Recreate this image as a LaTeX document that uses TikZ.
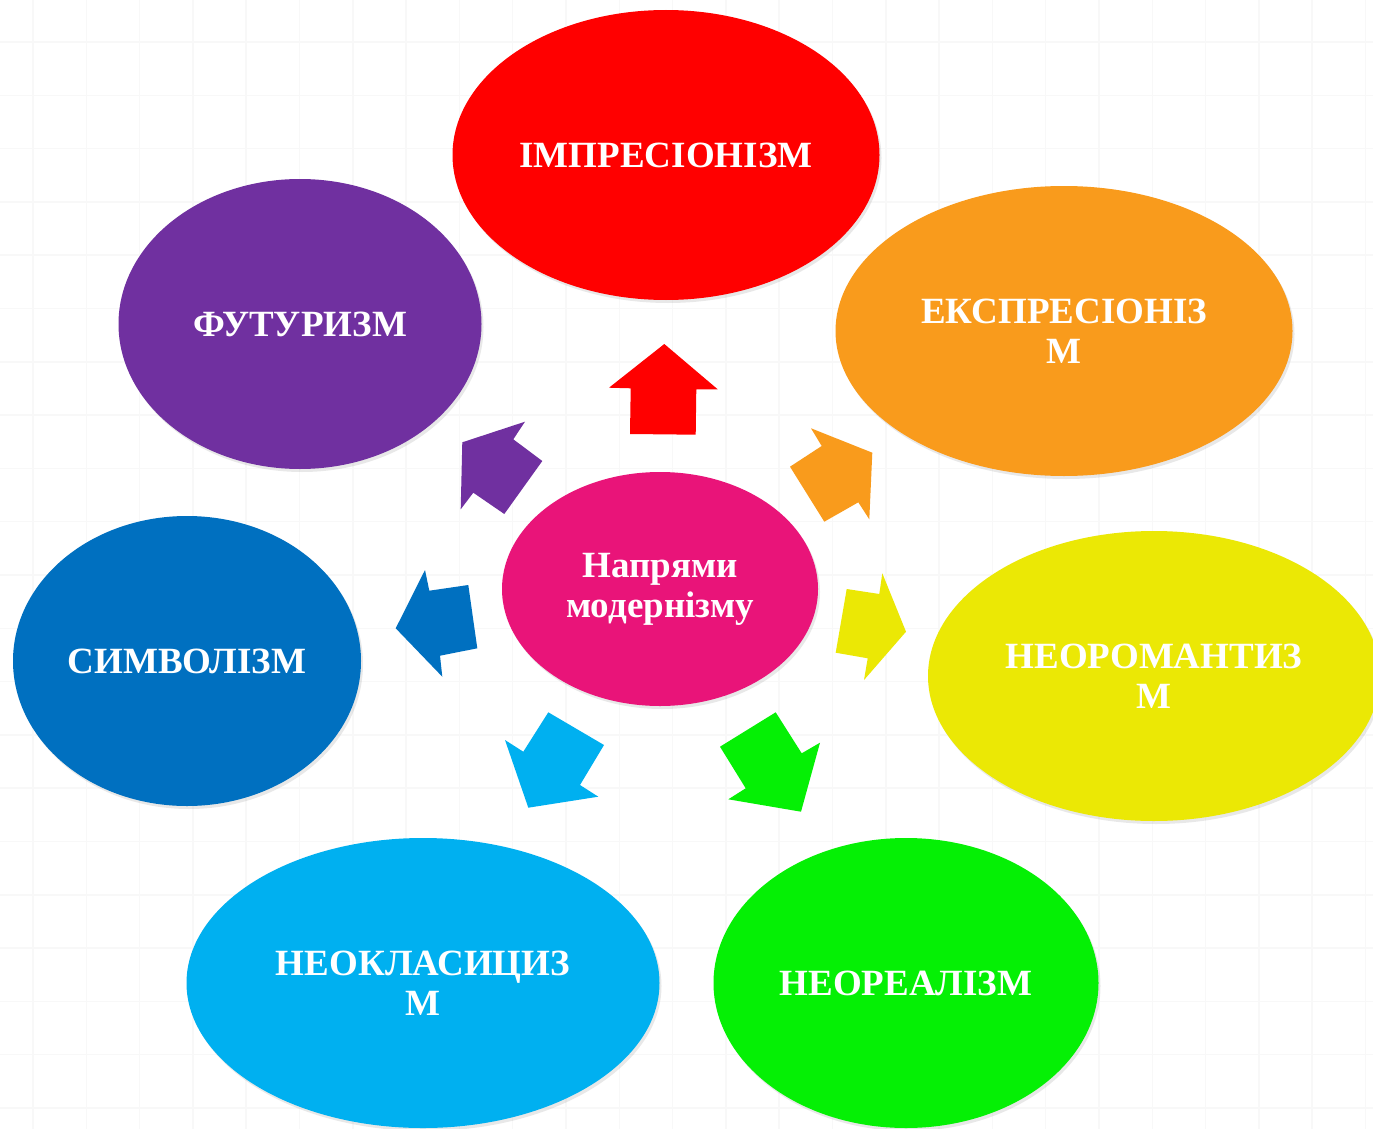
\documentclass[tikz,border=0pt]{standalone}
\usepackage{fontspec}
\setmainfont{Liberation Serif}
\usetikzlibrary{shapes.geometric,shadows}
\definecolor{cRed}{HTML}{FF0000}
\definecolor{cOrange}{HTML}{F99B1C}
\definecolor{cPurple}{HTML}{7030A0}
\definecolor{cBlue}{HTML}{0070C0}
\definecolor{cYellow}{HTML}{EBE805}
\definecolor{cLblue}{HTML}{00B0F0}
\definecolor{cGreen}{HTML}{05F005}
\definecolor{cPink}{HTML}{E91479}
\definecolor{cGrid}{HTML}{F8F8F8}
\begin{document}
\begin{tikzpicture}[x=1pt,y=-1pt,
  bub/.style={ellipse, inner sep=0pt, text=white, align=center,
    font=\bfseries\fontsize{37}{40}\selectfont,
    drop shadow={shadow xshift=2pt,shadow yshift=-3pt,opacity=0.18}},
  gridline/.style={draw=cGrid, line width=1.5pt}]
\useasboundingbox (0,0) rectangle (1373,1129);
\fill[white] (0,0) rectangle (1373,1129);
% faint background grid
\foreach \i in {0,...,25} {\draw[gridline] ({33+53.3*\i},0) -- ({33+53.3*\i},1129);}
\foreach \j in {0,...,21} {\draw[gridline] (0,{42+53.3*\j}) -- (1373,{42+53.3*\j});}
% bubbles
\node[bub, fill=cRed, minimum width=427pt, minimum height=290pt] (impr) at (666,155) {ІМПРЕСІОНІЗМ};
\node[bub, fill=cOrange, minimum width=457pt, minimum height=290pt] (expr) at (1064,331) {ЕКСПРЕСІОНІЗ\\М};
\node[bub, fill=cPurple, minimum width=363pt, minimum height=290pt] (futur) at (300,324) {ФУТУРИЗМ};
\node[bub, fill=cBlue, minimum width=348pt, minimum height=290pt] (symb) at (187,661) {СИМВОЛІЗМ};
\node[bub, fill=cYellow, minimum width=452pt, minimum height=290pt] (neorom) at (1154,676) {НЕОРОМАНТИЗ\\М};
\node[bub, fill=cLblue, minimum width=473pt, minimum height=290pt] (neocl) at (423,983) {НЕОКЛАСИЦИЗ\\М};
\node[bub, fill=cGreen, minimum width=385pt, minimum height=290pt] (neoreal) at (906,983) {НЕОРЕАЛІЗМ};
\node[bub, fill=cPink, minimum width=316pt, minimum height=234pt] (centre) at (660,589) {Напрями\\модернізму};
% block arrows
\fill[cRed] (664.3,344) -- (609,387.7) -- (630.7,388.3) -- (630,434) -- (695.7,434.7) -- (696.3,389.3) -- (717.7,389.3) -- cycle;
\fill[cOrange] (872.3,452.7) -- (811,428.3) -- (821.7,446) -- (790,466.7) -- (824.3,521.7) -- (858.3,502.3) -- (869.3,519.3) -- cycle;
\fill[cYellow] (906,631.7) -- (882.3,573.3) -- (879.3,594) -- (846.7,589) -- (835.7,652.7) -- (867.7,658.3) -- (864,680) -- cycle;
\fill[cGreen] (801,811.7) -- (820,742.7) -- (801.7,753.3) -- (775.7,712.3) -- (720,746.7) -- (745.7,788.3) -- (728.3,799.3) -- cycle;
\fill[cLblue] (528.3,807.7) -- (598.3,796.7) -- (580,785) -- (604,745) -- (548.3,712.3) -- (523.3,751.7) -- (505,740) -- cycle;
\fill[cBlue] (395.7,628.3) -- (442.3,676.7) -- (440,655.7) -- (477.3,648.3) -- (468.3,585) -- (429.3,590.7) -- (425,570) -- cycle;
\fill[cPurple] (462.3,442.3) -- (460.7,509.3) -- (473.3,492.7) -- (504.3,514) -- (542.3,461) -- (513.3,439.3) -- (525,421.7) -- cycle;
\end{tikzpicture}
\end{document}
